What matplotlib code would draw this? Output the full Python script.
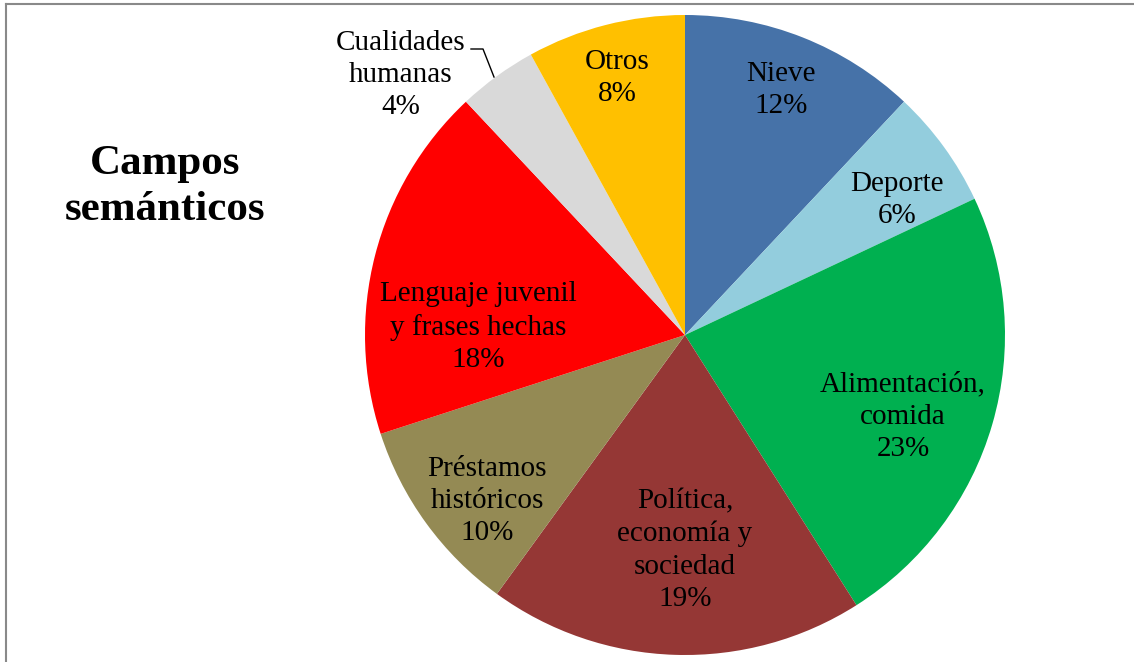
import matplotlib
matplotlib.use("Agg")
import matplotlib.pyplot as plt

# Semantic fields and their shares (percent)
categories = [
    "Nieve",
    "Deporte",
    "Alimentación,\ncomida",
    "Política,\neconomía y\nsociedad",
    "Préstamos\nhistóricos",
    "Lenguaje juvenil\ny frases hechas",
    "Cualidades\nhumanas",
    "Otros",
]
values = [12, 6, 23, 19, 10, 18, 4, 8]
colors = ["#4672A8", "#93CDDD", "#00B050", "#953735",
          "#948A54", "#FF0000", "#D9D9D9", "#FFC000"]
title = "Campos\nsemánticos"

W, H = 1134, 662
plt.rcParams["font.family"] = ["Liberation Serif", "DejaVu Serif"]

fig = plt.figure(figsize=(W / 100, H / 100), dpi=100)
ax = fig.add_axes([0, 0, 1, 1])


def px(x, y):
    """Pixel position (origin top-left) -> data coordinates."""
    return x, H - y


cx, cy = px(685, 335)
radius = 320

wedges, _ = ax.pie(values, colors=colors, startangle=90, counterclock=False,
                   center=(cx, cy), radius=radius,
                   wedgeprops=dict(linewidth=0))

ax.set_xlim(0, W)
ax.set_ylim(0, H)
ax.set_aspect("equal")
ax.axis("off")

# Label anchor points for each slice
label_pos = [
    (781, 90),
    (897, 200),
    (903, 417),
    (685, 550),
    (487, 501),
    (478, 327),
    (401, 75),
    (617, 78),
]
for name, val, (lx, ly) in zip(categories, values, label_pos):
    x, y = px(lx, ly)
    ax.text(x, y, f"{name}\n{val}%", ha="center", va="center",
            multialignment="center", fontsize=21, linespacing=1.32,
            color="black")

# Leader line for the small slice
lead = [px(471, 49), px(483, 49), px(494, 77)]
ax.plot([p[0] for p in lead], [p[1] for p in lead], color="black", lw=1.0)

# Chart title
tx, ty = px(165, 187)
ax.text(tx, ty, title, ha="center", va="center", multialignment="center",
        fontsize=31, fontweight="bold", linespacing=1.28)

# Chart-area border (top and left edges visible)
ax.plot([5.5, 5.5], [0, H - 4], color="#898989", lw=1.5, clip_on=False)
ax.plot([5.5, W], [H - 4, H - 4], color="#898989", lw=1.5, clip_on=False)

fig.savefig("out.png", dpi=100)
